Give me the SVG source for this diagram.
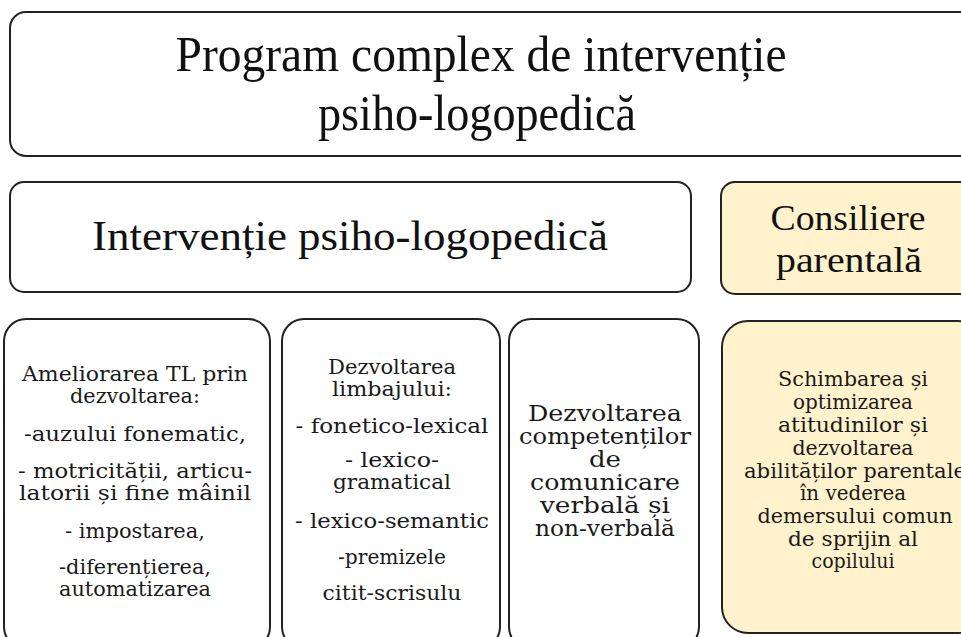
<svg xmlns="http://www.w3.org/2000/svg" width="961" height="637" viewBox="0 0 961 637">
  <style>
    .box { fill: #ffffff; stroke: #222222; stroke-width: 2; }
    .beige { fill: #FFF2CC; stroke: #222222; stroke-width: 2; }
    .title { font-family: "Liberation Serif", serif; fill: #111111; text-anchor: middle; }
    .body { font-family: "DejaVu Serif", "Liberation Serif", serif; font-size: 20.5px; fill: #1a1a1a; text-anchor: middle; }
    .big { font-size: 21.5px; }
  </style>
  <rect width="961" height="637" fill="#ffffff"/>

  <g id="program">
    <rect class="box" x="10" y="12" width="990" height="144" rx="16" ry="16"/>
    <text class="title" x="481" y="71" font-size="50" textLength="611" lengthAdjust="spacingAndGlyphs">Program complex de intervenție</text>
    <text class="title" x="477" y="130" font-size="50" textLength="318" lengthAdjust="spacingAndGlyphs">psiho-logopedică</text>
  </g>

  <g id="interventie">
    <rect class="box" x="10" y="182" width="681" height="110" rx="14" ry="14"/>
    <text class="title" x="350" y="250" font-size="42" textLength="516" lengthAdjust="spacingAndGlyphs">Intervenție psiho-logopedică</text>
  </g>

  <g id="consiliere">
    <rect class="beige" x="721" y="182" width="280" height="112" rx="14" ry="14"/>
    <text class="title" x="848" y="230" font-size="36" textLength="155" lengthAdjust="spacingAndGlyphs">Consiliere</text>
    <text class="title" x="849" y="272" font-size="36" textLength="146" lengthAdjust="spacingAndGlyphs">parentală</text>
  </g>

  <g id="ameliorarea">
    <rect class="box" x="4" y="319" width="266" height="330" rx="22" ry="22"/>
    <text class="body" x="135" y="381" textLength="226" lengthAdjust="spacingAndGlyphs">Ameliorarea TL prin</text>
    <text class="body" x="135" y="403" textLength="130" lengthAdjust="spacingAndGlyphs">dezvoltarea:</text>
    <text class="body" x="135" y="441" textLength="222" lengthAdjust="spacingAndGlyphs">-auzului fonematic,</text>
    <text class="body" x="135" y="478" textLength="234" lengthAdjust="spacingAndGlyphs">- motricității, articu-</text>
    <text class="body" x="135" y="500" textLength="232" lengthAdjust="spacingAndGlyphs">latorii și fine  mâinil</text>
    <text class="body" x="135" y="538" textLength="140" lengthAdjust="spacingAndGlyphs">- impostarea,</text>
    <text class="body" x="135" y="574" textLength="152" lengthAdjust="spacingAndGlyphs">-diferențierea,</text>
    <text class="body" x="135" y="596" textLength="152" lengthAdjust="spacingAndGlyphs">automatizarea</text>
  </g>

  <g id="limbaj">
    <rect class="box" x="282" y="319" width="218" height="330" rx="22" ry="22"/>
    <text class="body" x="392" y="374" textLength="128" lengthAdjust="spacingAndGlyphs">Dezvoltarea</text>
    <text class="body" x="392" y="396" textLength="120" lengthAdjust="spacingAndGlyphs">limbajului:</text>
    <text class="body" x="392" y="433" textLength="193" lengthAdjust="spacingAndGlyphs">- fonetico-lexical</text>
    <text class="body" x="392" y="467" textLength="94" lengthAdjust="spacingAndGlyphs">- lexico-</text>
    <text class="body" x="392" y="489" textLength="118" lengthAdjust="spacingAndGlyphs">gramatical</text>
    <text class="body" x="392" y="528" textLength="194" lengthAdjust="spacingAndGlyphs">- lexico-semantic</text>
    <text class="body" x="392" y="564" textLength="108" lengthAdjust="spacingAndGlyphs">-premizele</text>
    <text class="body" x="392" y="600" textLength="139" lengthAdjust="spacingAndGlyphs">citit-scrisulu</text>
  </g>

  <g id="comunicare">
    <rect class="box" x="509" y="319" width="190" height="330" rx="22" ry="22"/>
    <text class="body big" x="605" y="421" textLength="154" lengthAdjust="spacingAndGlyphs">Dezvoltarea</text>
    <text class="body big" x="605" y="444" textLength="172" lengthAdjust="spacingAndGlyphs">competenților</text>
    <text class="body big" x="605" y="467" textLength="32" lengthAdjust="spacingAndGlyphs">de</text>
    <text class="body big" x="605" y="490" textLength="150" lengthAdjust="spacingAndGlyphs">comunicare</text>
    <text class="body big" x="605" y="513" textLength="130" lengthAdjust="spacingAndGlyphs">verbală și</text>
    <text class="body big" x="605" y="536" textLength="140" lengthAdjust="spacingAndGlyphs">non-verbală</text>
  </g>

  <g id="schimbarea">
    <rect class="beige" x="722" y="321" width="262" height="312" rx="26" ry="26"/>
    <text class="body" x="853" y="386" textLength="150" lengthAdjust="spacingAndGlyphs">Schimbarea și</text>
    <text class="body" x="853" y="409" textLength="120" lengthAdjust="spacingAndGlyphs">optimizarea</text>
    <text class="body" x="853" y="432" textLength="150" lengthAdjust="spacingAndGlyphs">atitudinilor și</text>
    <text class="body" x="853" y="455" textLength="121" lengthAdjust="spacingAndGlyphs">dezvoltarea</text>
    <text class="body" x="855" y="478" textLength="222" lengthAdjust="spacingAndGlyphs">abilităților parentale</text>
    <text class="body" x="853" y="500" textLength="106" lengthAdjust="spacingAndGlyphs">în vederea</text>
    <text class="body" x="855" y="523" textLength="195" lengthAdjust="spacingAndGlyphs">demersului comun</text>
    <text class="body" x="853" y="546" textLength="130" lengthAdjust="spacingAndGlyphs">de sprijin al</text>
    <text class="body" x="853" y="568" textLength="83" lengthAdjust="spacingAndGlyphs">copilului</text>
  </g>

  <g id="connectors"></g>
</svg>
